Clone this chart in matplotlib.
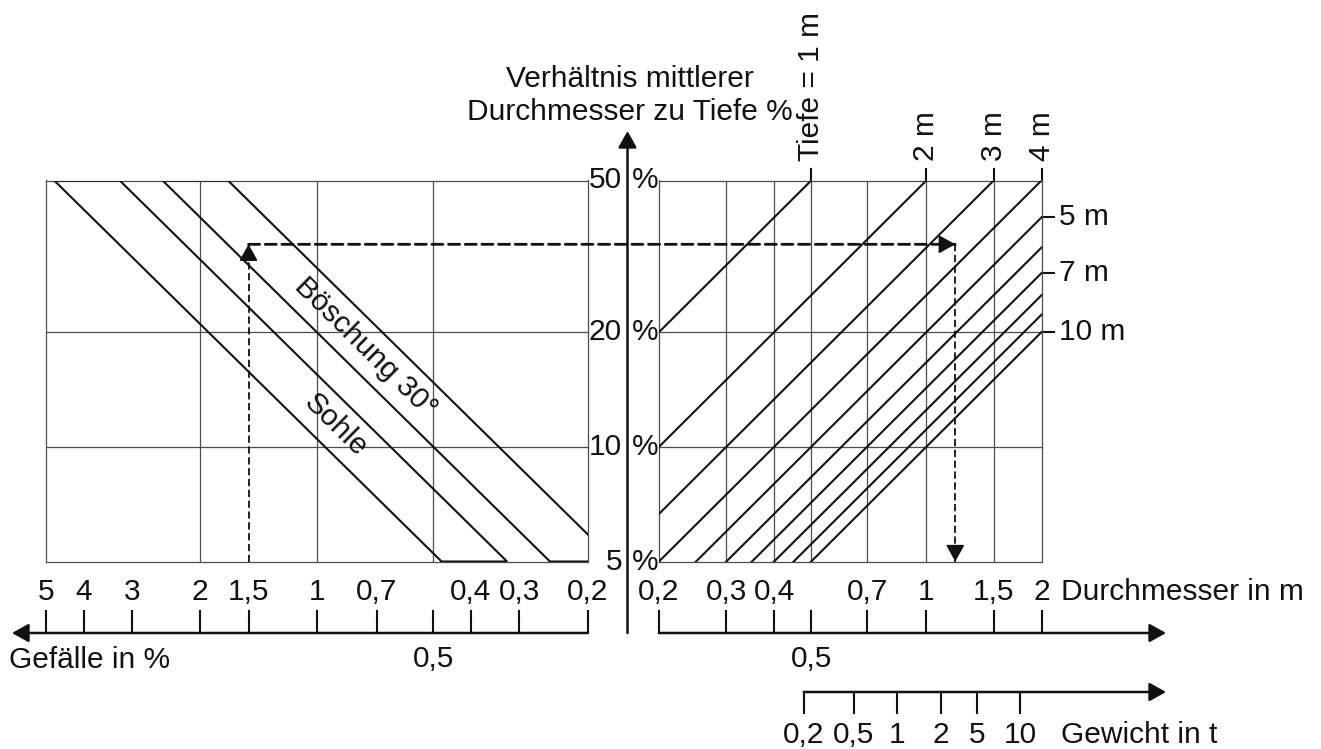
import numpy as np
import matplotlib
matplotlib.use("Agg")
import matplotlib.pyplot as plt
import matplotlib.ticker as mticker
import matplotlib.transforms as mtransforms
from matplotlib.patches import Polygon, ConnectionPatch

plt.rcParams["font.family"] = ["Liberation Sans", "DejaVu Sans"]
plt.rcParams["font.size"] = 21.5

# ---------------------------------------------------------------- data
# Gefälle (slope) scale, %
slope_ticks = [5, 4, 3, 2, 1.5, 1, 0.7, 0.5, 0.4, 0.3, 0.2]
slope_labels = ["5", "4", "3", "2", "1,5", "1", "0,7", "0,5", "0,4", "0,3", "0,2"]
slope_grid = [2, 1, 0.5]

# ratio mean diameter / depth, %
ratio_ticks = [50, 20, 10, 5]
ratio_labels = ["50", "20", "10", "5"]
ratio_grid = [20, 10]

# Durchmesser (diameter) scale, m
diam_ticks = [0.2, 0.3, 0.4, 0.5, 0.7, 1, 1.5, 2]
diam_labels = ["0,2", "0,3", "0,4", "0,5", "0,7", "1", "1,5", "2"]
diam_grid = [0.3, 0.4, 0.5, 0.7, 1, 1.5]

# Gewicht (weight) scale and the diameter each weight sits at
weight_labels = ["0,2", "0,5", "1", "2", "5", "10"]
weight_diam = [0.478, 0.646, 0.836, 1.09, 1.36, 1.76]

# water depth lines, m
depths = [1, 2, 3, 4, 5, 6, 7, 8, 9, 10]
depth_top_labels = {1: "Tiefe = 1 m", 2: "2 m", 3: "3 m", 4: "4 m"}
depth_side_labels = {5: "5 m", 7: "7 m", 10: "10 m"}

# stability bands: ratio (%) = k * slope (%)
sohle_k = (10.5, 15.5)
boeschung_k = (20.0, 29.5)
sohle_label_ratio = 11.4
boeschung_label_ratio = 18.2

# worked example
ex_slope = 1.5
ex_ratio = 34.0
ex_diam = 1.19

# ---------------------------------------------------------------- layout
W, H = 1321, 749
ink = "#111111"
gridc = "#4d4d4d"

fig = plt.figure(figsize=(W / 100, H / 100), dpi=100)
fig.patch.set_facecolor("white")


def rect(x0, x1, y_top, y_bot):
    return [x0 / W, 1 - y_bot / H, (x1 - x0) / W, (y_bot - y_top) / H]


ax_l = fig.add_axes(rect(46, 587.5, 180.5, 561.5))
ax_r = fig.add_axes(rect(659, 1041.5, 180.5, 561.5))

for ax in (ax_l, ax_r):
    ax.set_xscale("log")
    ax.set_yscale("log")
    ax.set_ylim(5, 50)
    for axis in (ax.xaxis, ax.yaxis):
        axis.set_major_locator(mticker.NullLocator())
        axis.set_minor_locator(mticker.NullLocator())
    for s in ax.spines.values():
        s.set_color(gridc)
        s.set_linewidth(0.9)
    for r in ratio_grid:
        ax.axhline(r, color=gridc, lw=0.9, zorder=1)
ax_l.set_xlim(5, 0.2)
ax_r.set_xlim(0.2, 2)
for v in slope_grid:
    ax_l.axvline(v, color=gridc, lw=0.9, zorder=1)
for v in diam_grid:
    ax_r.axvline(v, color=gridc, lw=0.9, zorder=1)

# pixel coordinates measured from the top-left corner
topix = mtransforms.Affine2D().scale(1 / W, -1 / H).translate(0, 1) + fig.transFigure
bx_l = mtransforms.blended_transform_factory(ax_l.transData, topix)
bx_r = mtransforms.blended_transform_factory(ax_r.transData, topix)
by_r = mtransforms.blended_transform_factory(topix, ax_r.transData)

head = "-|>,head_length=0.5,head_width=0.28"


def arrow(xy_to, trans_to, xy_from, trans_from, lw=1.8):
    fig.add_artist(ConnectionPatch(
        xyA=xy_from, coordsA=trans_from, xyB=xy_to, coordsB=trans_to,
        arrowstyle=head, mutation_scale=20, lw=lw, color=ink,
        shrinkA=0, shrinkB=0))


# ---------------------------------------------------------------- left panel: bands
def band(ax, k_pair):
    k1, k2 = k_pair
    pts = [(50 / k1, 50), (5 / k1, 5), (5 / k2, 5), (50 / k2, 50)]
    ax.add_patch(Polygon(pts, closed=True, fill=False, ec=ink, lw=1.5,
                         joinstyle="miter", zorder=3))


def band_label(ax, k_pair, r, text):
    k = np.sqrt(k_pair[0] * k_pair[1])
    p1 = ax.transData.transform((50 / k, 50))
    p2 = ax.transData.transform((5 / k, 5))
    ang = np.degrees(np.arctan2(p2[1] - p1[1], p2[0] - p1[0]))
    ax.text(r / k, r, text, rotation=ang, rotation_mode="anchor",
            ha="center", va="center", color=ink, zorder=4)


band(ax_l, sohle_k)
band(ax_l, boeschung_k)
band_label(ax_l, sohle_k, sohle_label_ratio, "Sohle")
band_label(ax_l, boeschung_k, boeschung_label_ratio, "Böschung 30°")

# ---------------------------------------------------------------- right panel: depth lines
d_span = np.array([0.2, 2.0])
for h in depths:
    ax_r.plot(d_span, d_span / h * 100, color=ink, lw=1.5, zorder=3)

for h, lab in depth_top_labels.items():
    d_top = 0.5 * h
    ax_r.plot([d_top, d_top], [180.5, 169], transform=bx_r, color=ink,
              lw=1.5, clip_on=False)
    ax_r.text(d_top, 161, lab, transform=bx_r, rotation=90,
              ha="center", va="bottom", color=ink)

for h, lab in depth_side_labels.items():
    r = 2.0 / h * 100
    ax_r.plot([1041.5, 1054], [r, r], transform=by_r, color=ink, lw=1.5,
              clip_on=False)
    ax_r.text(1059, r, lab, transform=by_r, ha="left", va="center", color=ink)

# ---------------------------------------------------------------- central ratio axis
arrow((627.5, 131), topix, (627.5, 633), topix)
for r, lab in zip(ratio_ticks, ratio_labels):
    ax_r.text(622, r, lab, transform=by_r, ha="right", va="center", color=ink)
    ax_r.text(632, r, "%", transform=by_r, ha="left", va="center", color=ink)

fig.text(630 / W, 1 - 79 / H, "Verhältnis mittlerer", ha="center", va="center",
         color=ink)
fig.text(630 / W, 1 - 112 / H, "Durchmesser zu Tiefe %", ha="center",
         va="center", color=ink)

# ---------------------------------------------------------------- bottom scales
below = {"0,5"}

# Gefälle
arrow((12, 633), topix, (0.2, 633), bx_l)
for v, lab in zip(slope_ticks, slope_labels):
    ax_l.plot([v, v], [633, 611], transform=bx_l, color=ink, lw=1.5,
              clip_on=False)
    y = 659 if lab in below else 592
    ax_l.text(v, y, lab, transform=bx_l, ha="center", va="center", color=ink)
fig.text(9 / W, 1 - 660 / H, "Gefälle in %", ha="left", va="center", color=ink)

# Durchmesser
arrow((1166, 633), topix, (0.2, 633), bx_r)
for v, lab in zip(diam_ticks, diam_labels):
    ax_r.plot([v, v], [633, 611], transform=bx_r, color=ink, lw=1.5,
              clip_on=False)
    y = 659 if lab in below else 592
    ax_r.text(v, y, lab, transform=bx_r, ha="center", va="center", color=ink)
fig.text(1061 / W, 1 - 592 / H, "Durchmesser in m", ha="left", va="center",
         color=ink)

# Gewicht
arrow((1166, 692), topix, (weight_diam[0], 692), bx_r)
for v, lab in zip(weight_diam, weight_labels):
    ax_r.plot([v, v], [692, 713], transform=bx_r, color=ink, lw=1.5,
              clip_on=False)
    ax_r.text(v, 735, lab, transform=bx_r, ha="center", va="center", color=ink)
fig.text(1061 / W, 1 - 735 / H, "Gewicht in t", ha="left", va="center",
         color=ink)

# ---------------------------------------------------------------- worked example (dashed)
dash = (0, (4, 2))
ax_l.plot([ex_slope, ex_slope], [5, ex_ratio], ls=dash, lw=1.3, color=ink,
          clip_on=False, zorder=5)
fig.add_artist(ConnectionPatch(xyA=(ex_slope, ex_ratio), coordsA=ax_l.transData,
                               xyB=(ex_diam, ex_ratio), coordsB=ax_r.transData,
                               ls=dash, lw=2.0, color=ink))
ax_r.plot([ex_diam, ex_diam], [ex_ratio, 5], ls=dash, lw=1.3, color=ink,
          clip_on=False, zorder=5)

hp = dict(arrowstyle=head, mutation_scale=20, lw=1.3, color=ink,
          shrinkA=0, shrinkB=0)
ax_l.annotate("", xy=(ex_slope, ex_ratio), xytext=(0, -11),
              textcoords="offset points", arrowprops=hp, annotation_clip=False)
ax_r.annotate("", xy=(ex_diam, ex_ratio), xytext=(-11, 0),
              textcoords="offset points", arrowprops=hp, annotation_clip=False)
ax_r.annotate("", xy=(ex_diam, 5), xytext=(0, 11),
              textcoords="offset points", arrowprops=hp, annotation_clip=False)

fig.savefig("out.png", dpi=100, facecolor="white")
